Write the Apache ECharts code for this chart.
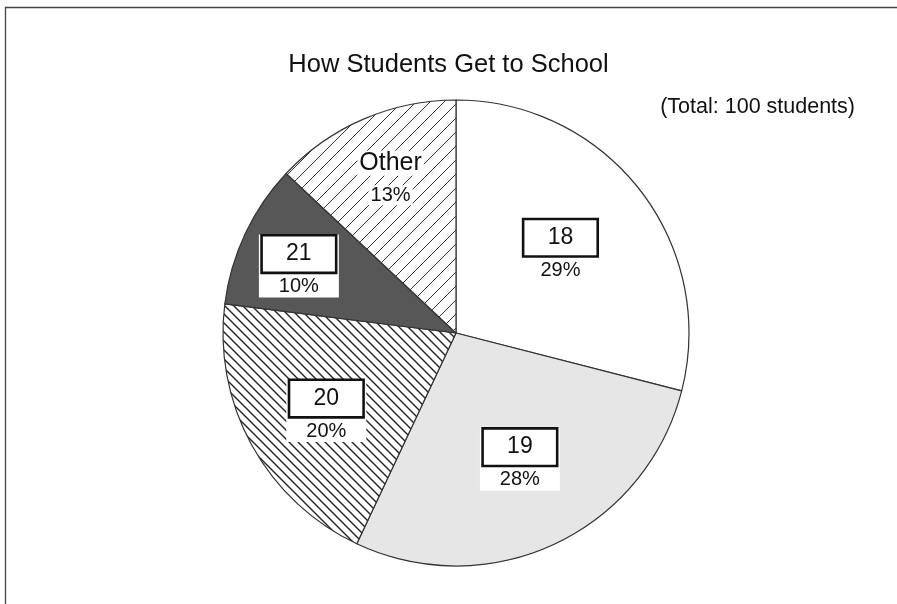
<!DOCTYPE html>
<html>
<head>
<meta charset="utf-8">
<script src="https://cdn.jsdelivr.net/npm/echarts@6/dist/echarts.min.js"></script>
<style>
html,body{margin:0;padding:0;background:#fff;}
#chart{width:897px;height:604px;}
</style>
</head>
<body>
<div id="chart"></div>
<script>
// ---- data ----
const categories = ['18', '19', '20', '21', 'Other'];
const percents = [29, 28, 20, 10, 13];
const titleText = 'How Students Get to School';
const subtitleText = '(Total: 100 students)';

// ---- styling helpers ----
function hatch(size, width, dir, color) {
  const c = document.createElement('canvas');
  c.width = size; c.height = size;
  const ctx = c.getContext('2d');
  ctx.fillStyle = '#fff';
  ctx.fillRect(0, 0, size, size);
  ctx.strokeStyle = color;
  ctx.lineWidth = width;
  ctx.beginPath();
  if (dir === '/') {
    ctx.moveTo(0, size); ctx.lineTo(size, 0);
    ctx.moveTo(-2, 2); ctx.lineTo(2, -2);
    ctx.moveTo(size - 2, size + 2); ctx.lineTo(size + 2, size - 2);
  } else {
    ctx.moveTo(0, 0); ctx.lineTo(size, size);
    ctx.moveTo(size - 2, -2); ctx.lineTo(size + 2, 2);
    ctx.moveTo(-2, size - 2); ctx.lineTo(2, size + 2);
  }
  ctx.stroke();
  return { image: c, repeat: 'repeat' };
}

const fills = ['#ffffff', '#e6e6e6', hatch(9, 1.4, '\\', '#222'), '#575757', hatch(14, 1, '/', '#333')];
const labelOffsets = [[10, -10], [13, 18], [-25, 20], [-49, -16], [-18, -46]];

const boxRich = {
  b: { fontFamily: 'Liberation Sans', fontSize: 23, color: '#111', width: 72, height: 35, align: 'center',
       borderColor: '#111', borderWidth: 2.6, backgroundColor: '#fff', lineHeight: 35 },
  p: { fontFamily: 'Liberation Sans', fontSize: 20, color: '#111', lineHeight: 26, align: 'center',
       padding: [4, 0, 0, 0] },
  o: { fontFamily: 'Liberation Sans', fontSize: 25, color: '#111', lineHeight: 36, align: 'center',
       backgroundColor: '#fff', padding: [0, 2] },
  q: { fontFamily: 'Liberation Sans', fontSize: 20, color: '#111', lineHeight: 28, align: 'center',
       backgroundColor: '#fff', padding: [0, 2] }
};

const data = categories.map((name, i) => {
  const isOther = name === 'Other';
  return {
    name: name,
    value: percents[i],
    itemStyle: { color: fills[i] },
    label: isOther ? {
      formatter: '{o|' + name + '}\n{q|' + percents[i] + '%}',
      backgroundColor: 'transparent',
      padding: 0
    } : {
      formatter: '{b|' + name + '}\n{p|' + percents[i] + '%}',
      backgroundColor: '#fff',
      padding: [2, 4, 0, 4]
    }
  };
});

const chart = echarts.init(document.getElementById('chart'), null, { renderer: 'canvas' });
chart.setOption({
  animation: false,
  backgroundColor: '#fff',
  title: [
    { text: titleText, left: 'center', top: 47,
      textStyle: { fontFamily: 'Liberation Sans', fontSize: 25.5, fontWeight: 'normal', color: '#111' } },
    { text: subtitleText, right: 37, top: 91,
      textStyle: { fontFamily: 'Liberation Sans', fontSize: 21.5, fontWeight: 'normal', color: '#111' } }
  ],
  graphic: [
    { type: 'polyline', silent: true,
      shape: { points: [[5.5, 610], [5.5, 7.5], [905, 7.5]] },
      style: { stroke: '#444', lineWidth: 1.3, fill: null } }
  ],
  series: [{
    type: 'pie',
    center: [456, 333],
    radius: 233,
    startAngle: 90,
    clockwise: true,
    silent: true,
    emphasis: { disabled: true },
    itemStyle: { borderColor: '#333', borderWidth: 1.2 },
    label: { show: true, position: 'inside', rich: boxRich },
    labelLine: { show: false },
    labelLayout: function (params) {
      const o = labelOffsets[params.dataIndex];
      return { dx: o[0], dy: o[1] };
    },
    data: data
  }]
});
</script>
</body>
</html>
